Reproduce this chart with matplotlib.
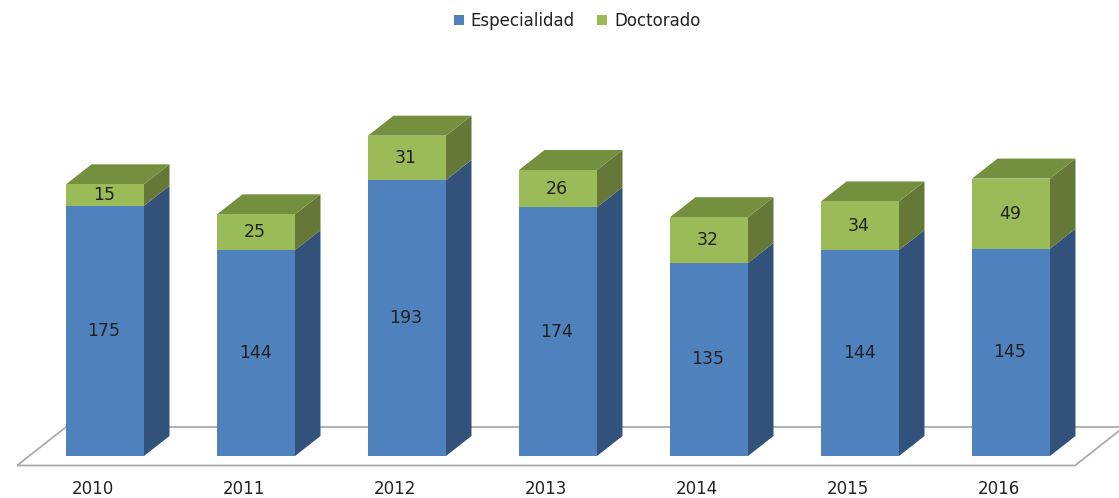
import matplotlib
matplotlib.use("Agg")
import matplotlib.pyplot as plt
from matplotlib.patches import Polygon
from matplotlib.transforms import ScaledTranslation

years = ["2010", "2011", "2012", "2013", "2014", "2015", "2016"]
especialidad = [175, 144, 193, 174, 135, 144, 145]
doctorado = [15, 25, 31, 26, 32, 34, 49]

W, H = 1119, 498
BASE = 456          # baseline, pixels from the top
PX_X = 151.0        # pixels per category
PX_Y = 1.43         # pixels per unit
CX0 = 105.0         # first category centre, px

BLUE, BLUE_SIDE = "#4F81BD", "#32527C"
GREEN, GREEN_SIDE, GREEN_TOP = "#9BBB59", "#657838", "#74903F"
FLOOR = "#ABABAB"
TEXT = "#222222"

plt.rcParams["font.family"] = "DejaVu Sans"
fig = plt.figure(figsize=(W / 100, H / 100), dpi=100, facecolor="white")
ax = fig.add_axes([0, (H - BASE) / H, 1, BASE / H])
ax.set_xlim(-CX0 / PX_X, (W - CX0) / PX_X)
ax.set_ylim(0, BASE / PX_Y)

bw = 78 / PX_X
dx = 25.5 / PX_X
dy = 20 / PX_Y
xs = list(range(len(years)))

# floor
fl, fr = (17 - CX0) / PX_X, (1075 - CX0) / PX_X
fb = -9.5 / PX_Y
bb = 29 / PX_Y
skew = 49 / PX_X
floor = Polygon([(fl, fb), (fr, fb), (fr + skew, bb), (fl + skew, bb)],
                closed=True, fill=False, ec=FLOOR, lw=1.3, zorder=1)
ax.add_patch(floor)
floor.set_clip_on(False)

# bars
b1 = ax.bar(xs, especialidad, bw, color=BLUE, label="Especialidad", zorder=3)
b2 = ax.bar(xs, doctorado, bw, bottom=especialidad, color=GREEN,
            label="Doctorado", zorder=3)

label_shift = ScaledTranslation(-1 / 100, 0, fig.dpi_scale_trans)
for x, e, d in zip(xs, especialidad, doctorado):
    r = x + bw / 2
    l = x - bw / 2
    t = e + d
    ax.add_patch(Polygon([(r, 0), (r + dx, dy), (r + dx, e + dy), (r, e)],
                         closed=True, fc=BLUE_SIDE, ec="none", zorder=2.5))
    ax.add_patch(Polygon([(r, e), (r + dx, e + dy), (r + dx, t + dy), (r, t)],
                         closed=True, fc=GREEN_SIDE, ec="none", zorder=2.5))
    ax.add_patch(Polygon([(l, t), (r, t), (r + dx, t + dy), (l + dx, t + dy)],
                         closed=True, fc=GREEN_TOP, ec="none", zorder=2.5))
    for yv, v in ((e / 2, e), (e + d / 2, d)):
        ax.text(x, yv, str(v), ha="center", va="center", fontsize=12.5,
                color=TEXT, zorder=4, transform=ax.transData + label_shift)

ax.set_xticks(xs, years)
ax.tick_params(axis="x", length=0, pad=17.5, labelsize=12, labelcolor=TEXT)
tick_shift = ScaledTranslation(-12 / 100, 0, fig.dpi_scale_trans)
for lab in ax.get_xticklabels():
    lab.set_transform(lab.get_transform() + tick_shift)
ax.yaxis.set_visible(False)
for s in ax.spines.values():
    s.set_visible(False)
ax.patch.set_alpha(0)

ax.legend(handles=[b1, b2], loc="center", ncol=2, frameon=False,
          bbox_to_anchor=(577 / W, (BASE - 21) / BASE),
          fontsize=12, handlelength=0.6, handleheight=0.6, handletextpad=0.42,
          columnspacing=1.32, labelcolor=TEXT, borderpad=0)

fig.savefig("out.png", dpi=100, facecolor="white")
